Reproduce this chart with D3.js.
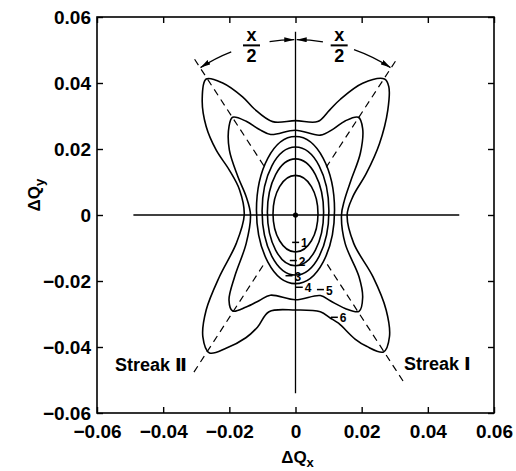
<!DOCTYPE html>
<html>
<head>
<meta charset="utf-8">
<script src="https://cdn.jsdelivr.net/npm/d3@7"></script>
<style>
  body { margin: 0; background: #fff; }
  svg { display: block; }
</style>
</head>
<body>
<div id="chart"></div>
<script>
// tick values / labels
const ticks = [-0.06, -0.04, -0.02, 0, 0.02, 0.04, 0.06];
const tickLabels = ["\u22120.06", "\u22120.04", "\u22120.02", "0", "0.02", "0.04", "0.06"];

// contours 1-4 : nested ellipses (half width, half height, centre offset)
const ellipseQx = [0.0068, 0.0085, 0.0101, 0.0118];
const ellipseQy = [0.0116, 0.0162, 0.0194, 0.0223];
const ellipseCy = [0.0004, 0.0008, 0.0012, 0.0015];

// contour 5 (inner butterfly)
const contour5 = [
  [0, 0.0257], [0.0075, 0.0242], [0.0115, 0.0261], [0.0150, 0.0285], [0.0190, 0.0296],
  [0.0203, 0.0262], [0.0196, 0.0187], [0.0168, 0.0106], [0.0148, 0.0045], [0.0139, 0],
  [0.0150, -0.0086], [0.0192, -0.0187], [0.0203, -0.0250], [0.0192, -0.0292],
  [0.0150, -0.0283], [0.0105, -0.0260], [0.0075, -0.0244], [0, -0.0257],
  [-0.0076, -0.0243], [-0.0109, -0.0259], [-0.0149, -0.0279], [-0.0190, -0.0291],
  [-0.0201, -0.0258], [-0.0184, -0.0187], [-0.0149, -0.0086], [-0.0136, 0],
  [-0.0149, 0.0055], [-0.0174, 0.0116], [-0.0200, 0.0197], [-0.0201, 0.0268],
  [-0.0190, 0.0296], [-0.0149, 0.0284], [-0.0109, 0.0259], [-0.0075, 0.0244]
];

// contour 6 (outer butterfly)
const contour6 = [
  [0, 0.0286], [0.0067, 0.0283], [0.0103, 0.0318], [0.0135, 0.0350], [0.0203, 0.0399],
  [0.0269, 0.0412], [0.0282, 0.0389], [0.0279, 0.0318], [0.0254, 0.0217], [0.0214, 0.0126],
  [0.0173, 0.0055], [0.0156, 0], [0.0176, -0.0086], [0.0234, -0.0187], [0.0274, -0.0288],
  [0.0284, -0.0369], [0.0266, -0.0415], [0.0215, -0.0398], [0.0180, -0.0376],
  [0.0130, -0.0328], [0.0105, -0.0312], [0.0075, -0.0293], [0, -0.0288],
  [-0.0080, -0.0293], [-0.0115, -0.0340], [-0.0150, -0.0372], [-0.0210, -0.0404],
  [-0.0260, -0.0418], [-0.0280, -0.0369], [-0.0270, -0.0288], [-0.0230, -0.0187],
  [-0.0179, -0.0086], [-0.0155, 0], [-0.0169, 0.0076], [-0.0200, 0.0136],
  [-0.0240, 0.0197], [-0.0270, 0.0268], [-0.0282, 0.0348], [-0.0270, 0.0412],
  [-0.0220, 0.0400], [-0.0160, 0.0358], [-0.0125, 0.0322], [-0.0069, 0.0283]
];

// contour level labels (left edge of the number, in ΔQ units)
const levelLabels = ["1", "2", "3", "4", "5", "6"];
const labelQx = [0.0017, 0.0010, -0.0003, 0.0028, 0.0092, 0.0134];
const labelQy = [-0.0086, -0.0141, -0.0187, -0.0222, -0.0229, -0.0313];

// streak lines: outer end -> inner end (dashes hidden inside the core)
const streakI = [[[-0.0305, 0.0472], [-0.0093, 0.0145]], [[0.0325, -0.0503], [0.0093, -0.0145]]];
const streakII = [[[0.0302, 0.0466], [0.0093, 0.0145]], [[-0.0307, -0.0476], [-0.0093, -0.0145]]];

// crossing-angle arcs, degrees from vertical (negative = left)
const chiR = 0.053;
const chiArcs = [[-21.5, -32.8], [-8.5, -0.4], [9, 0.4], [19.5, 32.8]];
const chiLabelQx = [-0.0133, 0.0132];
const chiLabelQy = 0.0514;

const width = 516;
const height = 471;
const font = "'Liberation Sans', Arial, Helvetica, sans-serif";

const x = d3.scaleLinear().domain([-0.06, 0.06]).range([97, 494]);
const y = d3.scaleLinear().domain([-0.06, 0.06]).range([413, 17]);

const svg = d3.select("#chart")
  .append("svg")
  .attr("width", width)
  .attr("height", height);

svg.append("defs")
  .append("marker")
  .attr("id", "arrow")
  .attr("markerUnits", "userSpaceOnUse")
  .attr("markerWidth", 11)
  .attr("markerHeight", 6)
  .attr("refX", 10)
  .attr("refY", 2.5)
  .attr("orient", "auto")
  .append("path")
  .attr("d", "M0,0L10,2.5L0,5Z")
  .attr("fill", "#000");

// axes with inward ticks on all four sides
function styleAxis(g) {
  g.select(".domain").remove();
  g.selectAll(".tick line").attr("stroke", "#000").attr("stroke-width", 1.4);
  g.attr("font-family", font).attr("font-size", 19).attr("font-weight", "bold");
  g.selectAll("text").attr("fill", "#000");
}

svg.append("g")
  .attr("transform", `translate(0,${y(-0.06)})`)
  .call(d3.axisBottom(x).tickValues(ticks).tickFormat((d, i) => tickLabels[i])
    .tickSizeInner(-6).tickSizeOuter(0).tickPadding(12))
  .call(styleAxis);

svg.append("g")
  .attr("transform", `translate(${x(-0.06)},0)`)
  .call(d3.axisLeft(y).tickValues(ticks).tickFormat((d, i) => tickLabels[i])
    .tickSizeInner(-6).tickSizeOuter(0).tickPadding(6))
  .call(styleAxis);

svg.append("g")
  .attr("transform", `translate(0,${y(0.06)})`)
  .call(d3.axisTop(x).tickValues(ticks).tickFormat("").tickSizeInner(-6).tickSizeOuter(0))
  .call(styleAxis);

svg.append("g")
  .attr("transform", `translate(${x(0.06)},0)`)
  .call(d3.axisRight(y).tickValues(ticks).tickFormat("").tickSizeInner(-6).tickSizeOuter(0))
  .call(styleAxis);

svg.append("rect")
  .attr("x", x(-0.06))
  .attr("y", y(0.06))
  .attr("width", x(0.06) - x(-0.06))
  .attr("height", y(-0.06) - y(0.06))
  .attr("fill", "none")
  .attr("stroke", "#000")
  .attr("stroke-width", 1.6);

// axis titles
const xTitle = svg.append("text")
  .attr("x", x(0) + 2)
  .attr("y", 463)
  .attr("text-anchor", "middle")
  .attr("font-family", font)
  .attr("font-weight", "bold")
  .attr("font-size", 17);
xTitle.append("tspan").text("\u0394Q");
xTitle.append("tspan").attr("font-size", 13).attr("dy", 4).text("x");

const yTitle = svg.append("text")
  .attr("transform", `translate(40,${y(0.006)}) rotate(-90)`)
  .attr("text-anchor", "middle")
  .attr("font-family", font)
  .attr("font-weight", "bold")
  .attr("font-size", 17);
yTitle.append("tspan").text("\u0394Q");
yTitle.append("tspan").attr("font-size", 13).attr("dy", 4).text("y");

// crosshair
svg.append("line")
  .attr("x1", x(-0.049)).attr("x2", x(0.0495))
  .attr("y1", y(0)).attr("y2", y(0))
  .attr("stroke", "#000").attr("stroke-width", 1.3);
svg.append("line")
  .attr("x1", x(0)).attr("x2", x(0))
  .attr("y1", y(0.0555)).attr("y2", y(-0.054))
  .attr("stroke", "#000").attr("stroke-width", 1.3);
svg.append("circle")
  .attr("cx", x(0)).attr("cy", y(0)).attr("r", 2.6)
  .attr("fill", "#000");

// streak lines
svg.selectAll(".streak")
  .data(streakI.concat(streakII))
  .enter()
  .append("line")
  .attr("class", "streak")
  .attr("x1", d => x(d[0][0])).attr("y1", d => y(d[0][1]))
  .attr("x2", d => x(d[1][0])).attr("y2", d => y(d[1][1]))
  .attr("stroke", "#000")
  .attr("stroke-width", 1.2)
  .attr("stroke-dasharray", "7,5");

// contours
const ellipses = d3.range(ellipseQx.length);
svg.selectAll(".ell")
  .data(ellipses)
  .enter()
  .append("ellipse")
  .attr("class", "ell")
  .attr("cx", x(0))
  .attr("cy", i => y(ellipseCy[i]))
  .attr("rx", i => x(ellipseQx[i]) - x(0))
  .attr("ry", i => y(0) - y(ellipseQy[i]))
  .attr("fill", "none")
  .attr("stroke", "#000")
  .attr("stroke-width", 1.6);

const contourLine = d3.line()
  .x(d => x(d[0]))
  .y(d => y(d[1]))
  .curve(d3.curveCatmullRomClosed.alpha(0.5));

svg.selectAll(".butterfly")
  .data([contour5, contour6])
  .enter()
  .append("path")
  .attr("class", "butterfly")
  .attr("d", contourLine)
  .attr("fill", "none")
  .attr("stroke", "#000")
  .attr("stroke-width", 1.6);

// level labels with small leader dash
const lab = svg.selectAll(".lvl")
  .data(levelLabels)
  .enter()
  .append("g")
  .attr("class", "lvl");

lab.append("line")
  .attr("x1", (d, i) => x(labelQx[i]) - 9)
  .attr("x2", (d, i) => x(labelQx[i]) - 2)
  .attr("y1", (d, i) => y(labelQy[i]) - 1)
  .attr("y2", (d, i) => y(labelQy[i]) - 1)
  .attr("stroke", "#000")
  .attr("stroke-width", 1.5);

lab.append("text")
  .attr("x", (d, i) => x(labelQx[i]))
  .attr("y", (d, i) => y(labelQy[i]) + 4)
  .attr("font-family", font)
  .attr("font-weight", "bold")
  .attr("font-size", 12)
  .text(d => d);

// streak names
const streakNames = svg.append("g")
  .attr("font-family", font)
  .attr("font-weight", "bold")
  .attr("font-size", 18);

const s2 = streakNames.append("text").attr("x", 115).attr("y", 371);
s2.append("tspan").text("Streak ");
s2.append("tspan").attr("font-family", "'DejaVu Sans'").text("\u2161");

const s1 = streakNames.append("text").attr("x", 404).attr("y", 370);
s1.append("tspan").text("Streak ");
s1.append("tspan").attr("font-family", "'DejaVu Sans'").text("\u2160");

// crossing angle arcs
const rPx = x(chiR) - x(0);
svg.selectAll(".chi")
  .data(chiArcs)
  .enter()
  .append("path")
  .attr("class", "chi")
  .attr("d", d => {
    const p = d3.path();
    const a0 = (d[0] - 90) * Math.PI / 180;
    const a1 = (d[1] - 90) * Math.PI / 180;
    p.arc(x(0), y(0), rPx, a0, a1, a1 < a0);
    return p.toString();
  })
  .attr("fill", "none")
  .attr("stroke", "#000")
  .attr("stroke-width", 1.3)
  .attr("marker-end", "url(#arrow)");

// χ/2 fractions
const chiLab = svg.selectAll(".chilab")
  .data(chiLabelQx)
  .enter()
  .append("g")
  .attr("class", "chilab")
  .attr("font-family", font)
  .attr("font-weight", "bold")
  .attr("font-size", 18)
  .attr("text-anchor", "middle");

chiLab.append("line")
  .attr("x1", d => x(d) - 8.5)
  .attr("x2", d => x(d) + 8.5)
  .attr("y1", y(chiLabelQy))
  .attr("y2", y(chiLabelQy))
  .attr("stroke", "#000")
  .attr("stroke-width", 2);

chiLab.append("text")
  .attr("x", d => x(d))
  .attr("y", y(chiLabelQy) - 4)
  .text("x");
chiLab.append("text")
  .attr("x", d => x(d))
  .attr("y", y(chiLabelQy) + 16.5)
  .text("2");
</script>
</body>
</html>
